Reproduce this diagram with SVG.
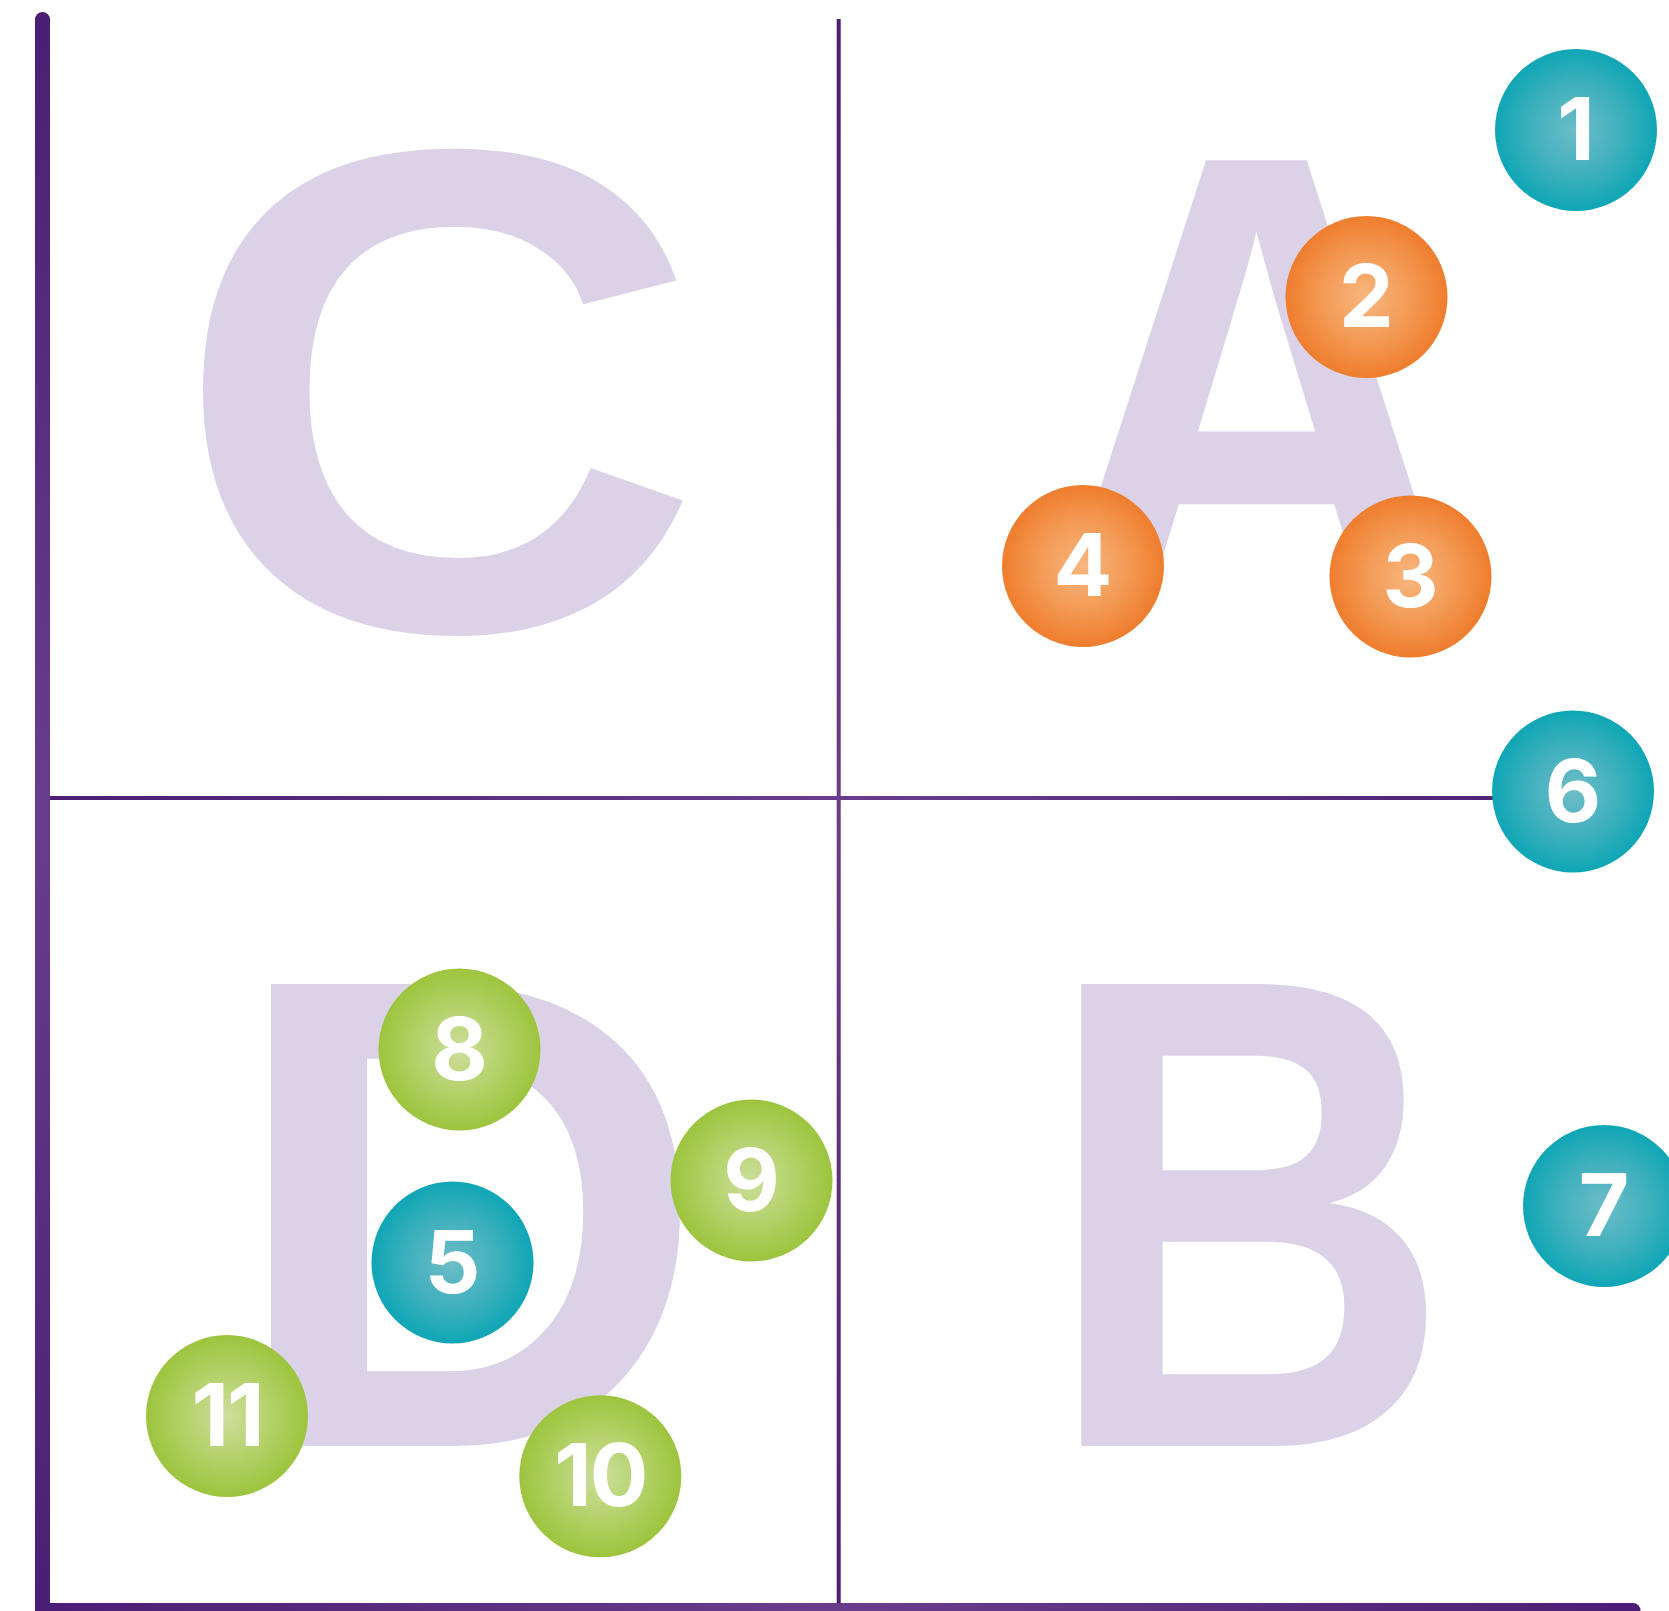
<svg xmlns="http://www.w3.org/2000/svg" width="1669" height="1611" viewBox="0 0 1669 1611">
  <style>
    .big { font-family: "Liberation Sans", Arial, sans-serif; font-weight: bold; font-size: 671.5px; fill: #dbd2e8; text-anchor: middle; }
    .num { font-family: Inter, "Liberation Sans", sans-serif; font-weight: 700; font-size: 87px; fill: #ffffff; text-anchor: middle; }
    .teal { fill: url(#gTeal); }
    .orange { fill: url(#gOrange); }
    .green { fill: url(#gGreen); }
  </style>
  <defs>
    <radialGradient id="gTeal" cx="0.5" cy="0.5" r="0.5">
      <stop offset="0" stop-color="#6dbdc7"/>
      <stop offset="0.55" stop-color="#40b0bd"/>
      <stop offset="1" stop-color="#0fa6b5"/>
    </radialGradient>
    <radialGradient id="gOrange" cx="0.5" cy="0.5" r="0.5">
      <stop offset="0" stop-color="#f8b67f"/>
      <stop offset="0.55" stop-color="#f39a55"/>
      <stop offset="1" stop-color="#ef7d2d"/>
    </radialGradient>
    <radialGradient id="gGreen" cx="0.5" cy="0.5" r="0.5">
      <stop offset="0" stop-color="#cbdf9c"/>
      <stop offset="0.55" stop-color="#b3d168"/>
      <stop offset="1" stop-color="#9dc43e"/>
    </radialGradient>
    <linearGradient id="gAxisV" gradientUnits="userSpaceOnUse" x1="0" y1="12" x2="0" y2="1611">
      <stop offset="0" stop-color="#4b1d74"/>
      <stop offset="0.5" stop-color="#6a3d8c"/>
      <stop offset="1" stop-color="#4b1d74"/>
    </linearGradient>
    <linearGradient id="gAxisH" gradientUnits="userSpaceOnUse" x1="35" y1="0" x2="1640" y2="0">
      <stop offset="0" stop-color="#4b1d74"/>
      <stop offset="0.5" stop-color="#6a3d8c"/>
      <stop offset="1" stop-color="#4b1d74"/>
    </linearGradient>
  </defs>

  <rect x="0" y="0" width="1669" height="1611" fill="#ffffff"/>

  <g id="quadrant-letters">
    <g id="letter-C"><text class="big" transform="translate(437.9,629.3) scale(1.093,1.025)">C</text></g>
    <g id="letter-A"><text class="big" transform="translate(1256.5,622.3) scale(0.883,1)">A</text></g>
    <g id="letter-D"><text class="big" transform="translate(467.2,1446) scale(0.993,1)">D</text></g>
    <g id="letter-B"><text class="big" transform="translate(1247.6,1446) scale(0.842,1)">B</text></g>
  </g>

  <g id="connectors">
    <line x1="838.7" y1="19" x2="838.7" y2="1604" stroke="url(#gAxisV)" stroke-width="4"/>
    <line x1="42" y1="798" x2="1500" y2="798" stroke="url(#gAxisH)" stroke-width="4"/>
    <line x1="42.5" y1="19.5" x2="42.5" y2="1620" stroke="url(#gAxisV)" stroke-width="15" stroke-linecap="round"/>
    <line x1="42.5" y1="1610.5" x2="1633" y2="1610.5" stroke="url(#gAxisH)" stroke-width="15" stroke-linecap="round"/>
  </g>

  <g id="node-1"><circle class="teal" cx="1576" cy="130" r="81"/><text class="num" x="1576" y="160">1</text></g>
  <g id="node-2"><circle class="orange" cx="1366.5" cy="297" r="81"/><text class="num" x="1366.5" y="327">2</text></g>
  <g id="node-3"><circle class="orange" cx="1410.5" cy="576.5" r="81"/><text class="num" x="1410.5" y="606.5">3</text></g>
  <g id="node-4"><circle class="orange" cx="1083" cy="566" r="81"/><text class="num" x="1083" y="596">4</text></g>
  <g id="node-5"><circle class="teal" cx="452.5" cy="1262.5" r="81"/><text class="num" x="452.5" y="1292.5">5</text></g>
  <g id="node-6"><circle class="teal" cx="1573" cy="791.5" r="81"/><text class="num" x="1573" y="821.5">6</text></g>
  <g id="node-7"><circle class="teal" cx="1604" cy="1206" r="81"/><text class="num" x="1604" y="1236">7</text></g>
  <g id="node-8"><circle class="green" cx="459.5" cy="1049.5" r="81"/><text class="num" x="459.5" y="1079.5">8</text></g>
  <g id="node-9"><circle class="green" cx="751.5" cy="1180.5" r="81"/><text class="num" x="751.5" y="1210.5">9</text></g>
  <g id="node-10"><circle class="green" cx="600.3" cy="1476.3" r="81"/><text class="num" x="600.3" y="1506.3" letter-spacing="-2">10</text></g>
  <g id="node-11"><circle class="green" cx="227" cy="1416" r="81"/><text class="num" x="227" y="1446" letter-spacing="-2">11</text></g>
</svg>
